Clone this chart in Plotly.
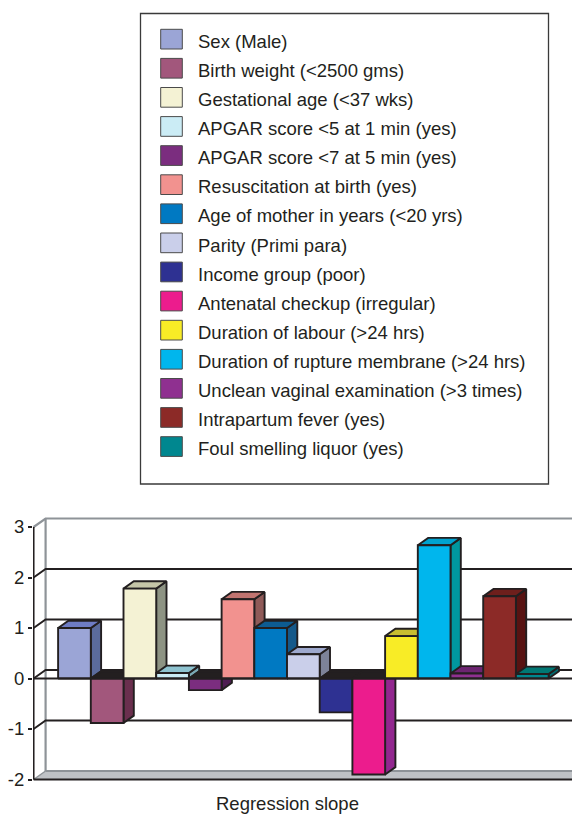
import plotly.graph_objects as go

# ---------------- data ----------------
categories = [
    "Sex (Male)",
    "Birth weight (<2500 gms)",
    "Gestational age (<37 wks)",
    "APGAR score <5 at 1 min (yes)",
    "APGAR score <7 at 5 min (yes)",
    "Resuscitation at birth (yes)",
    "Age of mother in years (<20 yrs)",
    "Parity (Primi para)",
    "Income group (poor)",
    "Antenatal checkup (irregular)",
    "Duration of labour (>24 hrs)",
    "Duration of rupture membrane (>24 hrs)",
    "Unclean vaginal examination (>3 times)",
    "Intrapartum fever (yes)",
    "Foul smelling liquor (yes)",
]
values = [1.0, -0.88, 1.78, 0.11, -0.23, 1.57, 1.0, 0.48, -0.67, -1.90, 0.84, 2.64, 0.10, 1.63, 0.09]

front_colors = ["#9BA5D6", "#A2577C", "#F4F2D4", "#CBECF5", "#7B2D7F", "#F2928F", "#0079C2", "#CACFEA",
                "#2E3192", "#EC1C8D", "#F8EC26", "#00B6ED", "#8F3090", "#8C2A27", "#00878F"]
top_colors = ["#6E7CC4", "#6A2F4E", "#C5C6A8", "#8EC3D0", "#4E1D52", "#C17470", "#0D5C92", "#9EA9CE",
              "#1F2166", "#8E3090", "#C8BE30", "#00A3D0", "#6C2470", "#6E1F1C", "#007874"]
side_colors = ["#5B6B9C", "#6A2F4E", "#8D9383", "#7AA9B5", "#4E1D52", "#8F5A58", "#15598A", "#7D8399",
               "#1F2166", "#92278F", "#A69E20", "#00979F", "#5E1F62", "#581312", "#006A70"]

y_ticks = [-2, -1, 0, 1, 2, 3]
y_tick_text = ["-2", "-1", "0", "1", "2", "3"]
category_label = "Regression slope"

# ---------------- geometry / style ----------------
OFF = 8                      # page body margin that offsets the figure
W, H = 580 - OFF, 814 - OFF
ML, MR, MT, MB = 33 - OFF, 0, 517 - OFF, 24
PX_X = 32.7      # pixels per x unit (one bar width)
PX_Y = 50.5      # pixels per y unit
plot_w = W - ML - MR
plot_h = H - MT - MB
x_lo = -1.268
x_hi = x_lo + plot_w / PX_X
y_hi = (678.5 - OFF - MT) / PX_Y
y_lo = y_hi - plot_h / PX_Y

n = len(values)
GAP = 0.75
XL = -0.5 - GAP
XR = n - 0.5 + GAP
DXB, DYB = 10.3 / PX_X, 7.3 / PX_Y     # bar depth
DXW, DYW = 12.0 / PX_X, 8.5 / PX_Y     # wall depth
YMIN, YMAX = min(y_ticks), max(y_ticks)

INK = "#231F20"
WALLGRAY = "#8E9398"
FLOOR = "#BFC2C6"
FONT = "Liberation Sans, Arial, sans-serif"
FS = 18.5
LW = 1.9

fig = go.Figure()


def poly(xs, ys, fill, line=INK, width=LW):
    fig.add_trace(go.Scatter(x=xs + [xs[0]], y=ys + [ys[0]], mode="lines", fill="toself",
                             fillcolor=fill, line=dict(color=line, width=width),
                             hoverinfo="skip", showlegend=False))


def seg(xs, ys, color=INK, width=LW):
    fig.add_trace(go.Scatter(x=xs, y=ys, mode="lines", line=dict(color=color, width=width),
                             hoverinfo="skip", showlegend=False))


# floor
poly([XL, XR, XR + DXW, XL + DXW], [YMIN, YMIN, YMIN + DYW, YMIN + DYW], FLOOR, line=FLOOR, width=0.5)
seg([XL + DXW, x_hi + 1], [YMIN + DYW, YMIN + DYW], WALLGRAY, 2.2)
seg([XL, XL + DXW], [YMIN, YMIN + DYW], WALLGRAY, 1.5)
seg([XR, XR + DXW], [YMIN, YMIN + DYW], WALLGRAY, 1.5)

# back wall edges
seg([XL + DXW, XL + DXW], [YMIN + DYW, YMAX + DYW], WALLGRAY, 2.2)
seg([XL, XL + DXW, x_hi + 1], [YMAX, YMAX + DYW, YMAX + DYW], WALLGRAY, 2.2)

# gridlines (side wall + back wall)
for v in y_ticks:
    if v in (YMIN, YMAX):
        continue
    seg([XL, XL + DXW, x_hi + 1], [v, v + DYW, v + DYW], INK, LW)

# bars, painted left to right
for i, v in enumerate(values):
    x0, x1 = i - 0.5, i + 0.5
    poly([x1, x1 + DXB, x1 + DXB, x1], [0, DYB, v + DYB, v], side_colors[i])
    if v >= 0:
        poly([x0, x1, x1 + DXB, x0 + DXB], [v, v, v + DYB, v + DYB], top_colors[i])
    else:
        poly([x0, x1, x1 + DXB, x0 + DXB], [0, 0, DYB, DYB], INK)
    poly([x0, x1, x1, x0], [0, 0, v, v], front_colors[i])

# front category axis (at 0) and floor front edge, with end ticks
tick_dy = 6 / PX_Y
seg([XL, XR, XR], [0, 0, -tick_dy], INK, LW)
seg([XL, XR, XR], [YMIN, YMIN, YMIN - tick_dy], INK, LW)
# front value axis
seg([XL, XL], [YMIN, YMAX], INK, LW)


# ---------------- legend (drawn manually) ----------------
def xp(px):
    return (px - OFF - ML) / plot_w


def yp(py):
    return (H - MB - (py - OFF)) / plot_h


shapes = [dict(type="rect", xref="paper", yref="paper",
               x0=xp(140.5), x1=xp(548.5), y0=yp(484), y1=yp(13.5),
               line=dict(color="#3A3A3A", width=1.3), fillcolor="white", layer="above")]
annotations = []
ROW0, PITCH = 29.3, 29.1
for k, name in enumerate(categories):
    top = ROW0 + PITCH * k
    shapes.append(dict(type="rect", xref="paper", yref="paper",
                       x0=xp(160.7), x1=xp(182.3), y0=yp(top + 19.7), y1=yp(top),
                       line=dict(color="#4A4A4A", width=1), fillcolor=front_colors[k], layer="above"))
    annotations.append(dict(text=name, xref="paper", yref="paper", x=xp(195.5), y=yp(top + 12),
                            xanchor="left", yanchor="middle", showarrow=False,
                            font=dict(family=FONT, size=FS, color=INK)))

annotations.append(dict(text=category_label, xref="paper", yref="paper", x=xp(287), y=yp(803),
                        xanchor="center", yanchor="middle", showarrow=False,
                        font=dict(family=FONT, size=FS, color=INK)))

fig.update_layout(
    width=W, height=H,
    margin=dict(l=ML, r=MR, t=MT, b=MB, pad=0),
    paper_bgcolor="white", plot_bgcolor="white",
    showlegend=False,
    shapes=shapes, annotations=annotations,
    xaxis=dict(range=[x_lo, x_hi], visible=False, fixedrange=True),
    yaxis=dict(range=[y_lo, y_hi], tickvals=y_ticks, ticktext=y_tick_text,
               ticks="outside", ticklen=4, tickwidth=LW, tickcolor=INK,
               showgrid=False, zeroline=False, showline=False,
               tickfont=dict(family=FONT, size=FS, color=INK), fixedrange=True),
    font=dict(family=FONT),
)

fig.write_html("out.html")
